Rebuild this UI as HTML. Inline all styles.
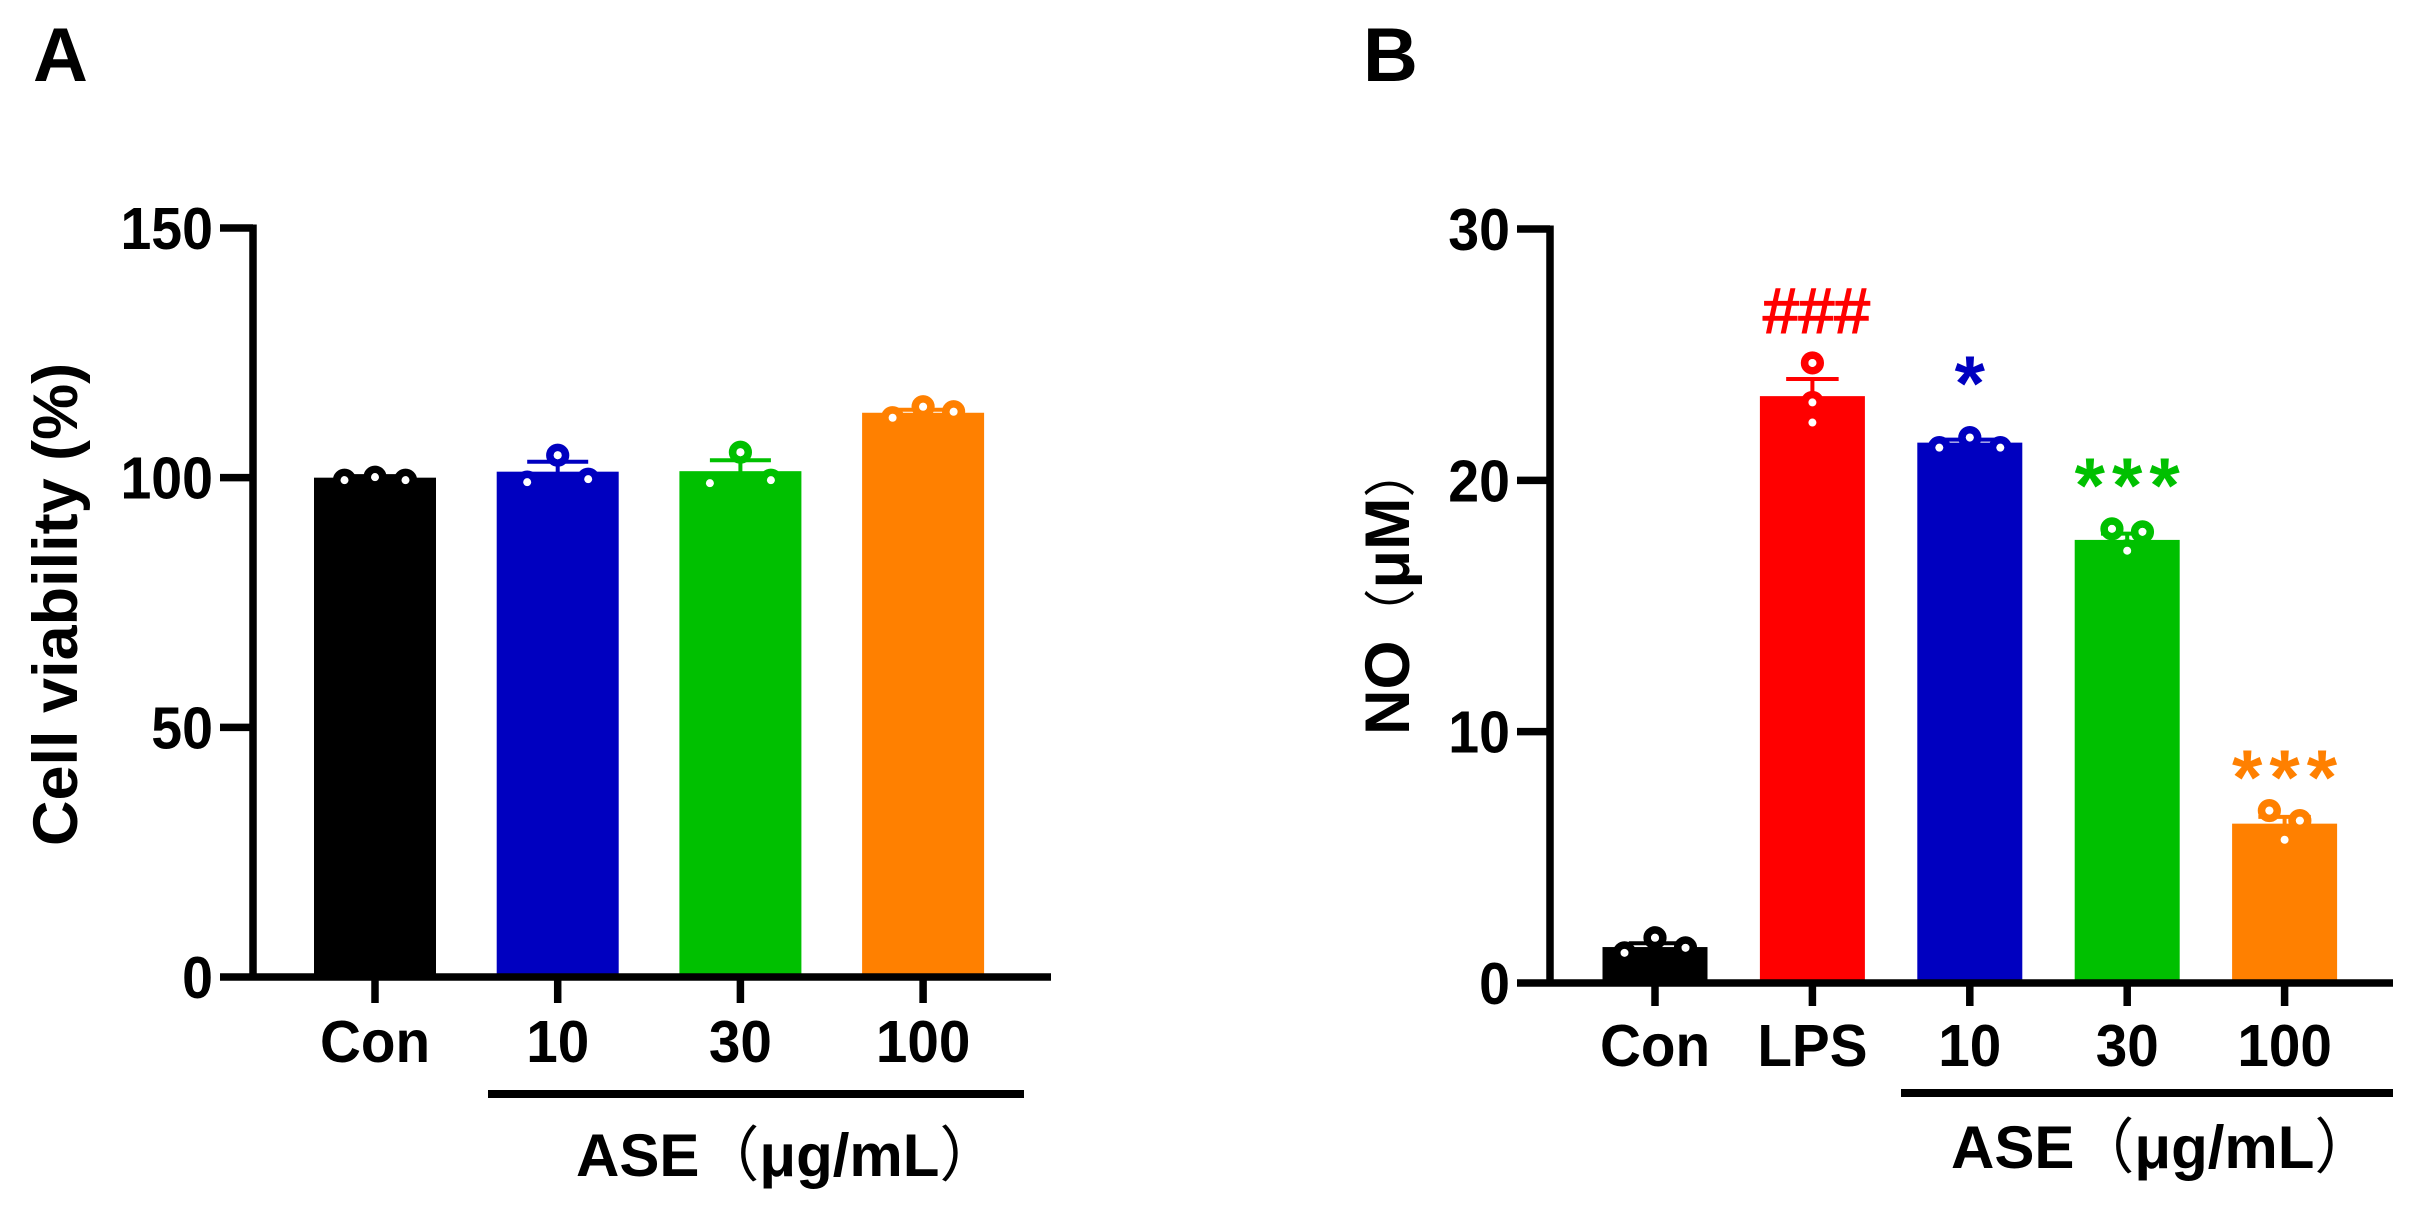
<!DOCTYPE html>
<html lang="en">
<head>
<meta charset="utf-8">
<title>Cell viability and NO bar charts</title>
<style>
html,body{margin:0;padding:0;background:#fff;}
svg{display:block;}
text{font-family:"Liberation Sans","Noto Sans CJK SC",sans-serif;font-weight:700;fill:#000;}
.cjk{font-family:"Noto Sans CJK SC",sans-serif;font-weight:400;}
</style>
</head>
<body>
<svg id="figure" xmlns="http://www.w3.org/2000/svg" width="2419" height="1205" viewBox="0 0 2419 1205">
  <rect x="0" y="0" width="2419" height="1205" fill="#fff"/>
  <text x="33" y="81" font-size="76">A</text>
  <text x="1363" y="81" font-size="76">B</text>
  <text transform="translate(77,846) rotate(-90)" font-size="63">Cell viability (%)</text>
  <text transform="translate(1409,735) rotate(-90)" font-size="63">NO<tspan class="cjk" font-size="52">（</tspan>μM<tspan class="cjk" font-size="52">）</tspan></text>
  <rect x="488" y="1090" width="536" height="8" fill="#000"/>
  <rect x="1901" y="1089" width="492" height="8" fill="#000"/>
  <text x="576" y="1176" font-size="60">ASE<tspan class="cjk">（</tspan>μg/mL<tspan class="cjk">）</tspan></text>
  <text x="1951" y="1168" font-size="60">ASE<tspan class="cjk">（</tspan>μg/mL<tspan class="cjk">）</tspan></text>
  <g id="chart-a"></g>
  <g id="chart-b"></g>
</svg>
<script>
// Panel A data
const categoriesA = ['Con', '10', '30', '100'];
const meansA = [100, 101.2, 101.3, 113];
const semsA = [0.3, 2.0, 2.2, 0.6];
const pointsA = [[99.5, 100.1, 99.5], [99.1, 104.5, 99.7], [98.9, 105.1, 99.5], [112, 114.2, 113.2]];
const ticksA = [0, 50, 100, 150];

// Panel B data
const categoriesB = ['Con', 'LPS', '10', '30', '100'];
const meansB = [1.43, 23.35, 21.5, 17.63, 6.34];
const semsB = [0.15, 0.68, 0.12, 0.25, 0.27];
const pointsB = [[1.2, 1.8, 1.4], [24.67, 23.1, 22.3], [21.3, 21.7, 21.3], [18.07, 17.95, 17.2], [6.86, 6.46, 5.7]];
const ticksB = [0, 10, 20, 30];
const marksB = ['', '###', '*', '***', '***'];
const markLevelsB = [0, 25.87, 22.8, 18.74, 7.12];

const coloursA = ['#000000', '#0000C0', '#00C000', '#FF8000'];
const coloursB = ['#000000', '#FF0000', '#0000C0', '#00C000', '#FF8000'];
// point arrangement within a bar, in jitter units
const slotsA = [[-1, 0, 1], [-1, 0, 1], [-1, 0, 1], [-1, 0, 1]];
const slotsB = [[-1, 0, 1], [0, 0, 0], [-1, 0, 1], [-0.5, 0.5, 0], [-0.5, 0.5, 0]];

const NS = 'http://www.w3.org/2000/svg';

function shape(parent, tag, attrs) {
  const el = document.createElementNS(NS, tag);
  for (const k in attrs) el.setAttribute(k, attrs[k]);
  parent.appendChild(el);
  return el;
}

function drawChart(o) {
  const root = document.getElementById(o.id);
  const yMax = o.ticks[o.ticks.length - 1];
  const y = v => o.y0 - (v / yMax) * (o.y0 - o.yTop);
  const x = i => o.x0 + o.step * i;

  o.means.forEach((m, i) => {
    const bar = shape(root, 'rect', { x: x(i) - o.barW / 2, y: y(m), width: o.barW, height: o.y0 - y(m), fill: o.colours[i] });
    
    
  });

  o.means.forEach((m, i) => {
    const stem = shape(root, 'line', { x1: x(i), x2: x(i), y1: y(m - o.sems[i]), y2: y(m + o.sems[i]), stroke: o.colours[i], 'stroke-width': 4 });
    
    
    const cap = shape(root, 'line', { x1: x(i) - o.barW / 4, x2: x(i) + o.barW / 4, y1: y(m + o.sems[i]), y2: y(m + o.sems[i]), stroke: o.colours[i], 'stroke-width': 4 });
    
    
  });

  o.points.forEach((set, i) => {
    set.forEach((v, j) => {
      const c = shape(root, 'circle', { cx: x(i) + o.slots[i][j] * o.jitter, cy: y(v), r: 7.8, fill: 'none', stroke: o.colours[i], 'stroke-width': 7.6 });
      
      
      const dot = shape(root, 'circle', { cx: x(i) + o.slots[i][j] * o.jitter, cy: y(v), r: 4, fill: '#fff' });
      
      
    });
  });

  const yAxis = shape(root, 'line', { x1: o.axisX, x2: o.axisX, y1: o.yTop - 3.5, y2: o.y0 + 3.5, stroke: '#000', 'stroke-width': 7.5 });
  
  
  const xAxis = shape(root, 'line', { x1: o.axisX, x2: o.axisEnd, y1: o.y0, y2: o.y0, stroke: '#000', 'stroke-width': 7.5 });
  
  

  o.ticks.forEach(t => {
    const tick = shape(root, 'line', { x1: o.axisX - 33, x2: o.axisX, y1: y(t), y2: y(t), stroke: '#000', 'stroke-width': 7.5 });
    
    
    const lab = shape(root, 'text', { transform: 'translate(' + (o.axisX - 40) + ',' + (y(t) + 21) + ') scale(0.94,1)', 'font-size': 59, 'text-anchor': 'end' });
    lab.textContent = String(t);
    
    
  });

  o.categories.forEach((c, i) => {
    const tick = shape(root, 'line', { x1: x(i), x2: x(i), y1: o.y0, y2: o.y0 + o.xTickLen, stroke: '#000', 'stroke-width': 7.5 });
    
    
    const lab = shape(root, 'text', { transform: 'translate(' + x(i) + ',' + o.labelY + ') scale(0.96,1)', 'font-size': 59, 'text-anchor': 'middle' });
    lab.textContent = c;
    
    
  });

  (o.marks || []).forEach((m, i) => {
    if (!m) return;
    const isHash = m.indexOf('#') === 0;
    const spaced = m.length > 1 && !isHash;
    const lab = shape(root, 'text', {
      x: x(i) + (isHash ? 4 : (spaced ? 3.5 : 0)),
      y: y(o.markLevels[i]),
      'font-size': isHash ? 64 : 78,
      'text-anchor': 'middle',
      style: 'fill:' + o.colours[i] + ';font-weight:' + (isHash ? 400 : 700) +
        (isHash ? ';stroke:' + o.colours[i] + ';stroke-width:1.6' : '') +
        (spaced ? ';letter-spacing:7px' : '')
    });
    lab.textContent = m;
    
    
  });
}

drawChart({
  id: 'chart-a', categories: categoriesA, means: meansA, sems: semsA, points: pointsA,
  ticks: ticksA, colours: coloursA, slots: slotsA,
  x0: 375, step: 182.7, barW: 122, jitter: 30.5, y0: 977, yTop: 228,
  axisX: 253, axisEnd: 1051, labelY: 1062, xTickLen: 26
});
drawChart({
  id: 'chart-b', categories: categoriesB, means: meansB, sems: semsB, points: pointsB,
  ticks: ticksB, colours: coloursB, slots: slotsB, marks: marksB, markLevels: markLevelsB,
  x0: 1655, step: 157.4, barW: 105, jitter: 30.5, y0: 983, yTop: 229,
  axisX: 1550, axisEnd: 2393, labelY: 1066, xTickLen: 23
});
</script>
</body>
</html>
